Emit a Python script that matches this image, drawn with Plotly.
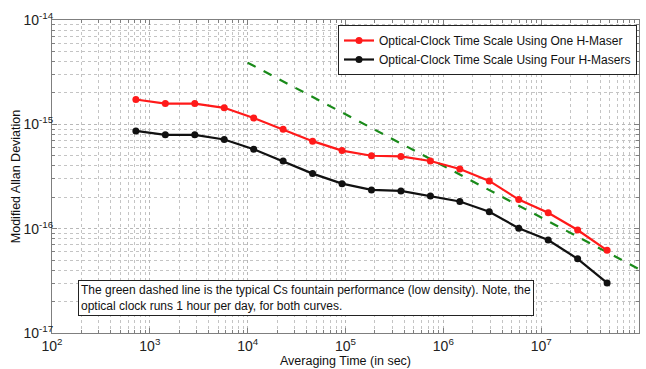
import plotly.graph_objects as go

tau = [720, 1440, 2880, 5760, 11520, 23040, 46080, 92160, 184320, 368640,
       737280, 1474560, 2949120, 5898240, 11796480, 23592960, 47185920]
one_maser = [1.73e-15, 1.58e-15, 1.58e-15, 1.44e-15, 1.15e-15, 8.96e-16, 6.9e-16,
             5.6e-16, 5.0e-16, 4.93e-16, 4.45e-16, 3.73e-16, 2.87e-16, 1.9e-16,
             1.42e-16, 9.7e-17, 6.2e-17]
four_masers = [8.65e-16, 7.94e-16, 7.94e-16, 7.15e-16, 5.78e-16, 4.45e-16, 3.37e-16,
               2.7e-16, 2.35e-16, 2.3e-16, 2.06e-16, 1.82e-16, 1.45e-16, 1.01e-16,
               7.77e-17, 5.14e-17, 3.02e-17]
cs_tau = [1e4, 1e8]
cs_adev = [3.9e-15, 4.1e-17]

x_major = [1e2, 1e3, 1e4, 1e5, 1e6, 1e7, 1e8]
x_labels = ["10<sup>2</sup>", "10<sup>3</sup>", "10<sup>4</sup>", "10<sup>5</sup>",
            "10<sup>6</sup>", "10<sup>7</sup>", "10<sup>8</sup>"]
y_major = [1e-17, 1e-16, 1e-15, 1e-14]
y_labels = ["10<sup>-17</sup>", "10<sup>-16</sup>", "10<sup>-15</sup>", "10<sup>-14</sup>"]

x_minor = [m * 10 ** e for e in range(2, 8) for m in range(2, 10)]
y_minor = [m * 10.0 ** e for e in range(-17, -14) for m in range(2, 10)]

font = "Liberation Sans, Arial, sans-serif"

fig = go.Figure()
fig.add_trace(go.Scatter(x=cs_tau, y=cs_adev, mode="lines",
                         line=dict(color="#1a8a1a", width=2.2, dash="dash"),
                         showlegend=False, hoverinfo="skip"))
fig.add_trace(go.Scatter(x=tau, y=one_maser, mode="lines+markers",
                         name="Optical-Clock Time Scale Using One H-Maser",
                         line=dict(color="#ff1a1a", width=2.2),
                         marker=dict(color="#ff1a1a", size=7, symbol="circle")))
fig.add_trace(go.Scatter(x=tau, y=four_masers, mode="lines+markers",
                         name="Optical-Clock Time Scale Using Four H-Masers",
                         line=dict(color="#111111", width=2.2),
                         marker=dict(color="#111111", size=7, symbol="circle")))

axis_common = dict(
    type="log", showline=True, linecolor="#7f7f7f", linewidth=1, mirror="allticks",
    ticks="inside", ticklen=5, tickcolor="#7f7f7f",
    showgrid=True, gridcolor="#b8b8b8", griddash="dot", gridwidth=1,
    zeroline=False, tickfont=dict(family=font, size=14, color="#222222"),
)

fig.update_layout(
    width=646, height=369,
    margin=dict(l=52, r=6, t=20, b=32),
    paper_bgcolor="white", plot_bgcolor="white",
    font=dict(family=font, size=12, color="#111111"),
    xaxis=dict(**axis_common, range=[2, 8], tickvals=x_major, ticktext=x_labels,
               minor=dict(tickvals=x_minor, ticks="inside", ticklen=3, tickcolor="#7f7f7f",
                          showgrid=True, gridcolor="#c4c4c4", griddash="dot"),
               title=dict(text="Averaging Time (in sec)", font=dict(family=font, size=12.5),
                          standoff=0)),
    yaxis=dict(**axis_common, range=[-17, -14], tickvals=y_major, ticktext=y_labels,
               ticklabelstandoff=-5,
               minor=dict(tickvals=y_minor, ticks="inside", ticklen=3, tickcolor="#7f7f7f",
                          showgrid=True, gridcolor="#c4c4c4", griddash="dot"),
               title=dict(text="Modified Allan Deviation", font=dict(family=font, size=12.5),
                          standoff=0)),
    legend=dict(x=0.9966, y=0.984, xanchor="right", yanchor="top",
                bgcolor="white", bordercolor="#222222", borderwidth=1,
                font=dict(family=font, size=12, color="#111111"),
                itemwidth=30, tracegroupgap=0),
    showlegend=True,
)

fig.add_annotation(
    xref="paper", yref="paper", x=0.044, y=0.17, xanchor="left", yanchor="top",
    text="The green dashed line is the typical Cs fountain performance (low density). Note, the<br>"
         "optical clock runs 1 hour per day, for both curves.",
    showarrow=False, align="left", bgcolor="white", bordercolor="#222222", borderwidth=1,
    borderpad=2, font=dict(family=font, size=12, color="#111111"),
)

fig.write_html("out.html")
